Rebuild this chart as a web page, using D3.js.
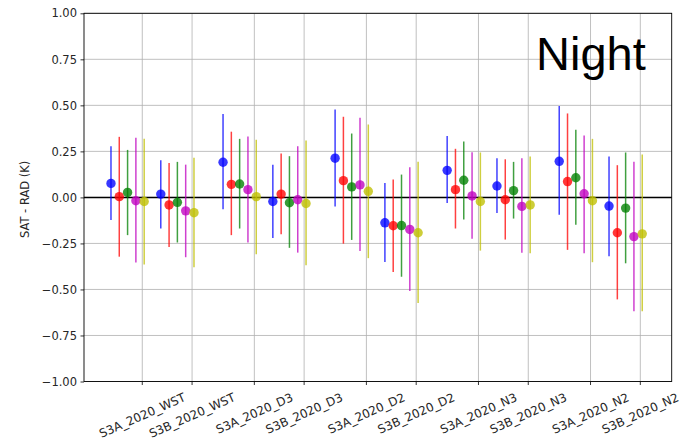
<!DOCTYPE html>
<html>
<head>
<meta charset="utf-8">
<script src="https://cdn.jsdelivr.net/npm/d3@7"></script>
<style>
  html, body { margin: 0; padding: 0; background: #fff; }
  svg { display: block; }
</style>
</head>
<body>
<svg id="chart" width="687" height="446"></svg>
<script>
// ---------------- data ----------------
const categories = ["S3A_2020_WST","S3B_2020_WST","S3A_2020_D3","S3B_2020_D3","S3A_2020_D2",
                    "S3B_2020_D2","S3A_2020_N3","S3B_2020_N3","S3A_2020_N2","S3B_2020_N2"];
const seriesNames = ["blue","red","green","magenta","yellow"];
const seriesColors = ["#0000ff","#ff0000","#008000","#bf00bf","#bfbf00"];

const blueMean = [0.076, 0.018, 0.191, -0.022, 0.213, -0.138, 0.147, 0.062, 0.196, -0.047];
const blueHi   = [0.278, 0.202, 0.453, 0.178, 0.478, 0.078, 0.333, 0.213, 0.496, 0.222];
const blueLo   = [-0.123, -0.169, -0.065, -0.221, -0.049, -0.351, -0.031, -0.085, -0.094, -0.320];

const redMean = [0.004, -0.041, 0.071, 0.018, 0.091, -0.154, 0.042, -0.013, 0.086, -0.192];
const redHi   = [0.329, 0.187, 0.357, 0.238, 0.438, 0.097, 0.264, 0.207, 0.456, 0.175];
const redLo   = [-0.322, -0.269, -0.205, -0.200, -0.251, -0.405, -0.169, -0.229, -0.285, -0.554];

const greenMean = [0.027, -0.027, 0.073, -0.029, 0.057, -0.153, 0.093, 0.037, 0.107, -0.058];
const greenHi   = [0.258, 0.193, 0.318, 0.224, 0.347, 0.124, 0.304, 0.193, 0.367, 0.244];
const greenLo   = [-0.205, -0.245, -0.169, -0.274, -0.231, -0.431, -0.120, -0.115, -0.149, -0.358];

const magentaMean = [-0.018, -0.073, 0.042, -0.013, 0.068, -0.174, 0.008, -0.049, 0.020, -0.213];
const magentaHi   = [0.324, 0.178, 0.331, 0.278, 0.433, 0.164, 0.245, 0.213, 0.336, 0.193];
const magentaLo   = [-0.354, -0.325, -0.245, -0.300, -0.291, -0.509, -0.224, -0.300, -0.303, -0.618];

const yellowMean = [-0.022, -0.083, 0.004, -0.033, 0.033, -0.192, -0.022, -0.041, -0.018, -0.198];
const yellowHi   = [0.318, 0.216, 0.313, 0.309, 0.396, 0.193, 0.244, 0.222, 0.318, 0.233];
const yellowLo   = [-0.365, -0.380, -0.309, -0.369, -0.330, -0.574, -0.289, -0.303, -0.352, -0.618];

const yTicks = [-1.0, -0.75, -0.5, -0.25, 0, 0.25, 0.5, 0.75, 1.0];
const titleText = "Night";
const yLabel = "SAT - RAD (K)";

const means = [blueMean, redMean, greenMean, magentaMean, yellowMean];
const his   = [blueHi, redHi, greenHi, magentaHi, yellowHi];
const los   = [blueLo, redLo, greenLo, magentaLo, yellowLo];

// ---------------- layout ----------------
const L = 84, R = 671.7, T = 13.3, B = 381.5;
const svg = d3.select("#chart");
const font = "DejaVu Sans, sans-serif";

const pairStep = 13.5, subStep = 6, tickOffset = 3.77;
const catPos = (i) => Math.floor(i / 2) * pairStep + (i % 2) * subStep;
const x = d3.scaleLinear().domain([-3.25, 67.55]).range([L, R]);
const y = d3.scaleLinear().domain([-1, 1]).range([B, T]);

// grid
const g = svg.append("g");
g.selectAll(".hg").data(yTicks).join("line")
  .attr("x1", L).attr("x2", R)
  .attr("y1", d => y(d)).attr("y2", d => y(d))
  .attr("stroke", "#b0b0b0").attr("stroke-width", 0.8);
g.selectAll(".vg").data(categories).join("line")
  .attr("x1", (d, i) => x(catPos(i) + tickOffset)).attr("x2", (d, i) => x(catPos(i) + tickOffset))
  .attr("y1", T).attr("y2", B)
  .attr("stroke", "#b0b0b0").attr("stroke-width", 0.8);

// zero line
svg.append("line").attr("x1", L).attr("x2", R).attr("y1", y(0)).attr("y2", y(0))
  .attr("stroke", "#000").attr("stroke-width", 1.5);

// error bars + points
seriesNames.forEach((name, k) => {
  const col = seriesColors[k];
  const pts = categories.map((c, i) => ({
    xp: catPos(i) + k, m: means[k][i], lo: los[k][i], hi: his[k][i]
  }));
  const gs = svg.append("g").attr("class", "series-" + name);
  gs.selectAll("line").data(pts).join("line")
    .attr("x1", d => x(d.xp)).attr("x2", d => x(d.xp))
    .attr("y1", d => y(d.lo)).attr("y2", d => y(d.hi))
    .attr("stroke", col).attr("stroke-opacity", 0.75).attr("stroke-width", 1.5);
  gs.selectAll("circle").data(pts).join("circle")
    .attr("cx", d => x(d.xp)).attr("cy", d => y(d.m)).attr("r", 4.7)
    .attr("fill", col).attr("fill-opacity", 0.78);
});

// frame
svg.append("rect").attr("x", L).attr("y", T).attr("width", R - L).attr("height", B - T)
  .attr("fill", "none").attr("stroke", "#000").attr("stroke-width", 0.9);

// y axis ticks/labels
const yAxis = d3.axisLeft(y).tickValues(yTicks).tickSize(3.5).tickPadding(3.5)
  .tickFormat(d => d3.format(".2f")(d).replace("-", "\u2212"));
const ya = svg.append("g").attr("transform", `translate(${L},0)`).call(yAxis);
ya.select(".domain").remove();
ya.selectAll("line").attr("stroke", "#000").attr("stroke-width", 0.8);
ya.selectAll("text").attr("font-family", font).attr("font-size", 11.5).attr("fill", "#262626");

// x axis ticks
const xa = svg.append("g");
xa.selectAll("line").data(categories).join("line")
  .attr("x1", (d, i) => x(catPos(i) + tickOffset)).attr("x2", (d, i) => x(catPos(i) + tickOffset))
  .attr("y1", B).attr("y2", B + 3.5).attr("stroke", "#000").attr("stroke-width", 0.8);

const theta = 24, rad = theta * Math.PI / 180, fs = 12, topY = 391;
categories.forEach((c, i) => {
  const tx = x(catPos(i) + tickOffset);
  const grp = xa.append("g");
  const t = grp.append("text").text(c)
    .attr("x", 0).attr("y", 0).attr("dy", "0.35em")
    .attr("font-family", font).attr("font-size", fs).attr("fill", "#262626")
    .attr("text-anchor", "middle");
  const len = t.node().getComputedTextLength();
  const h = fs * 1.0;
  const H = len * Math.sin(rad) + h * Math.cos(rad);
  const cy = topY + H / 2;
  grp.attr("transform", `translate(${tx},${cy}) rotate(${-theta})`);
});

// y label
svg.append("text").text(yLabel)
  .attr("font-family", font).attr("font-size", 11.5).attr("fill", "#262626")
  .attr("text-anchor", "middle")
  .attr("transform", `translate(29,${(T + B) / 2 + 2}) rotate(-90)`);

// title inside plot
svg.append("text").text(titleText)
  .attr("x", 536).attr("y", 70)
  .attr("font-family", "Liberation Sans, Arial, sans-serif").attr("font-size", 47)
  .attr("fill", "#000");
</script>
</body>
</html>
